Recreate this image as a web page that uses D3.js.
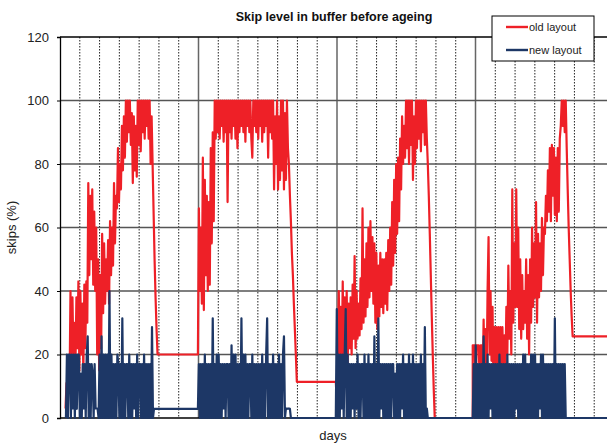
<!DOCTYPE html>
<html>
<head>
<meta charset="utf-8">
<script src="https://cdn.jsdelivr.net/npm/d3@7"></script>
<style>
  body { margin: 0; background: #fff; }
  svg { display: block; font-family: "Liberation Sans", Arial, sans-serif; }
</style>
</head>
<body>
<script>
// values, one value every 0.05 day inside each burst
const dayStep = 0.05;
const seriesNames = ["old layout", "new layout"];
const yTicks = [0, 20, 40, 60, 80, 100, 120];

const oldStarts = [0.28, 6.97, 13.94, 20.86];
const oldHold = [20, 11.4, 0, 25.7];
const oldBurst1 = [3, 11, 5, 11, 8, 40, 12, 38, 18, 30, 16, 38, 22, 43, 15, 40, 20, 36, 14, 42,
  22, 43, 30, 74, 45, 70, 50, 72, 42, 65, 40, 60, 20, 50, 15, 45, 22, 58, 33, 55,
  36, 50, 40, 56, 36, 62, 45, 60, 48, 74, 55, 70, 66, 85, 68, 80, 72, 92, 78, 95,
  82, 100, 87, 100, 90, 100, 86, 96, 74, 95, 78, 92, 76, 100, 86, 100, 84, 100, 90, 100,
  88, 100, 92, 100, 88, 100, 80, 95, 80, 65, 50, 38, 28, 20];
const oldBurst2 = [20, 66, 40, 60, 36, 82, 34, 75, 45, 70, 40, 68, 42, 85, 55, 90, 62, 100, 88, 100,
  90, 100, 88, 100, 92, 100, 87, 100, 90, 100, 68, 100, 90, 100, 88, 100, 92, 100, 88, 100,
  85, 100, 90, 100, 92, 100, 90, 100, 87, 100, 92, 100, 90, 100, 88, 82, 100, 92, 100, 90,
  100, 88, 100, 92, 100, 87, 100, 90, 100, 92, 100, 82, 100, 90, 100, 88, 100, 72, 95, 80,
  100, 72, 95, 75, 100, 78, 100, 72, 96, 75, 100, 85, 80, 70, 62, 52, 45, 36, 28, 20,
  11.4];
const oldBurst3 = [11.4, 5, 20, 40, 18, 35, 18, 43, 15, 38, 20, 40, 17, 36, 22, 38, 20, 42, 25, 51,
  22, 40, 25, 36, 26, 44, 28, 66, 30, 50, 32, 55, 35, 60, 38, 62, 40, 57, 36, 55,
  30, 52, 28, 48, 32, 52, 35, 50, 33, 50, 36, 52, 34, 56, 40, 60, 42, 68, 48, 75,
  52, 80, 58, 82, 62, 88, 72, 95, 80, 92, 82, 100, 85, 100, 80, 100, 86, 100, 75, 95,
  80, 100, 85, 100, 88, 100, 84, 100, 90, 100, 86, 100, 88, 80, 70, 58, 45, 32, 20, 9,
  0];
const oldBurst4 = [22.9, 22.9, 22.9, 8, 22.9, 22.9, 22.9, 12, 22.9, 22.9, 10, 31, 14, 28, 12, 40, 57, 20, 40, 18,
  35, 8, 28.6, 16, 28.6, 12, 28.6, 18, 28.6, 5, 28.6, 15, 26, 14, 35, 20, 48, 25, 40, 20,
  72, 30, 55, 35, 72, 35, 60, 28, 50, 25, 45, 28, 40, 30, 50, 25, 45, 20, 50, 30,
  60, 35, 55, 38, 68, 30, 58, 38, 55, 40, 63, 45, 60, 58, 70, 62, 78, 65, 85, 62,
  86, 70, 85, 64, 82, 62, 85, 65, 88, 92, 100, 92, 100, 90, 100, 85, 72, 60, 50, 40,
  32, 25.7];

const newStarts = [0.30, 6.97, 13.94, 20.86];
const newHold = [2.9, 0, 0, 0];
const newBurst1 = [0, 20, 0, 20, 20, 0, 20, 3, 20, 0, 20, 2.9, 20, 20, 0, 14, 0, 17, 3, 17,
  0, 20, 25.7, 0, 17, 0, 17, 14, 0, 17, 3, 3, 2.9, 0, 20, 0, 25.7, 0, 20, 0,
  20, 0, 20, 0, 40, 0, 20, 0, 17, 0, 17, 0, 20, 17, 0, 17, 0, 31.4, 0, 17,
  0, 17, 17, 0, 20, 0, 17, 0, 17, 3, 17, 0, 20, 0, 17, 17, 0, 17, 0, 20,
  0, 17, 0, 17, 0, 17, 0, 28.6, 0, 2.9];
const newBurst2 = [2.9, 17, 0, 17, 0, 17, 0, 20, 0, 17, 0, 17, 0, 17, 0, 31.4, 0, 17, 0, 20,
  0, 20, 0, 17, 0, 17, 3, 17, 0, 17, 17, 0, 17, 0, 22.9, 0, 20, 0, 20, 0,
  17, 0, 17, 0, 31.4, 0, 20, 0, 20, 0, 17, 0, 17, 17, 0, 20, 0, 17, 0, 17,
  0, 17, 0, 17, 0, 20, 0, 17, 0, 20, 31.4, 0, 17, 0, 17, 0, 20, 0, 17, 0,
  17, 0, 20, 0, 17, 0, 20, 25.7, 0, 3, 3, 2.9, 3, 2.9, 0];
const newBurst3 = [0, 34.3, 0, 20, 0, 20, 3, 20, 0, 20, 34.3, 0, 20, 0, 17, 0, 17, 3, 17, 0,
  17, 3, 20, 0, 17, 0, 17, 17, 0, 20, 0, 17, 0, 20, 0, 17, 0, 17, 0, 25.7,
  0, 17, 0, 31.4, 0, 17, 3, 17, 0, 17, 0, 17, 0, 17, 0, 17, 0, 17, 17, 0,
  14, 0, 17, 0, 17, 0, 17, 3, 20, 0, 17, 0, 17, 0, 20, 0, 17, 0, 20, 0,
  17, 0, 17, 0, 17, 0, 20, 0, 17, 0, 28.6, 0, 3, 0];
const newBurst4 = [0, 17, 0, 22.9, 0, 17, 0, 17, 0, 17, 0, 25.7, 0, 17, 0, 20, 0, 17, 3, 17,
  0, 17, 0, 17, 0, 17, 0, 20, 0, 17, 0, 17, 0, 17, 0, 20, 0, 17, 0, 17,
  0, 17, 0, 17, 3, 17, 0, 17, 0, 17, 0, 20, 0, 20, 0, 17, 0, 17, 0, 20,
  0, 20, 0, 20, 0, 17, 0, 17, 3, 20, 0, 20, 0, 17, 0, 17, 0, 17, 0, 17,
  0, 17, 0, 31.4, 0, 17, 0, 17, 0, 17, 0, 17, 0, 17, 0];

const dayMax = 28;

function buildSeries(starts, bursts, holds) {
    let pts = [];
    bursts.forEach((b, k) => {
        b.forEach((v, i) => pts.push([starts[k] + i * dayStep, v]));
        let next = k + 1 < starts.length ? starts[k + 1] : dayMax;
        pts.push([next, holds[k]]);
    });
    return pts;
}

const oldSeries = buildSeries(oldStarts, [oldBurst1, oldBurst2, oldBurst3, oldBurst4], oldHold);
const newSeries = buildSeries(newStarts, [newBurst1, newBurst2, newBurst3, newBurst4], newHold);

const W = 607, H = 443;
const m = { left: 60, top: 37, right: 614, bottom: 418 };

const svg = d3.select("body").append("svg").attr("width", W).attr("height", H);

const x = d3.scaleLinear().domain([0, dayMax]).range([m.left, m.right]);
const y = d3.scaleLinear().domain([0, 120]).range([m.bottom, m.top]);

// minor day gridlines (dotted)
const grid = svg.append("g");
grid.selectAll(".minor")
    .data(d3.range(1, dayMax).filter(d => d % 7 !== 0))
    .join("line")
    .attr("x1", d => x(d)).attr("x2", d => x(d))
    .attr("y1", m.top).attr("y2", m.bottom)
    .attr("stroke", "#222").attr("stroke-width", 1)
    .attr("stroke-dasharray", "1.5,1.5");

// weekly gridlines
grid.selectAll(".major")
    .data([7, 14, 21])
    .join("line")
    .attr("x1", d => x(d)).attr("x2", d => x(d))
    .attr("y1", m.top).attr("y2", m.bottom)
    .attr("stroke", "#666").attr("stroke-width", 1.5);

// horizontal gridlines
grid.selectAll(".hgrid")
    .data(yTicks.slice(1))
    .join("line")
    .attr("x1", m.left).attr("x2", W)
    .attr("y1", d => y(d)).attr("y2", d => y(d))
    .attr("stroke", d => d === 120 ? "#000" : "#555").attr("stroke-width", 1.3);

// y axis
const yAxis = svg.append("g")
    .attr("transform", `translate(${m.left},0)`)
    .call(d3.axisLeft(y).tickValues(yTicks).tickSize(3).tickPadding(8));
yAxis.select(".domain").attr("stroke", "#000").attr("stroke-width", 1.3);
yAxis.selectAll("text").attr("font-size", 13).attr("fill", "#222")
    .attr("font-family", "Liberation Sans, Arial, sans-serif");
yAxis.selectAll(".tick line").attr("stroke", "#000");

// x axis baseline
svg.append("line")
    .attr("x1", m.left).attr("x2", W)
    .attr("y1", y(0)).attr("y2", y(0))
    .attr("stroke", "#000").attr("stroke-width", 1.3);

const line = d3.line().x(d => x(d[0])).y(d => y(d[1]));

svg.append("path")
    .datum(oldSeries)
    .attr("d", line)
    .attr("fill", "none")
    .attr("stroke", "#ee2027")
    .attr("stroke-width", 2.2)
    .attr("stroke-linejoin", "round");

svg.append("path")
    .datum(newSeries)
    .attr("d", line)
    .attr("fill", "none")
    .attr("stroke", "#1d3766")
    .attr("stroke-width", 2.2)
    .attr("stroke-linejoin", "round");

// title and axis labels
svg.append("text")
    .attr("x", 334).attr("y", 21)
    .attr("text-anchor", "middle")
    .attr("font-size", 12.5).attr("font-weight", "bold").attr("fill", "#111")
    .text("Skip level in buffer before ageing");

svg.append("text")
    .attr("transform", `translate(16,${(m.top + m.bottom) / 2}) rotate(-90)`)
    .attr("text-anchor", "middle")
    .attr("font-size", 13).attr("fill", "#222")
    .text("skips (%)");

svg.append("text")
    .attr("x", 333).attr("y", 440)
    .attr("text-anchor", "middle")
    .attr("font-size", 13).attr("fill", "#222")
    .text("days");

// legend
const legend = svg.append("g").attr("transform", "translate(492,16)");
legend.append("rect")
    .attr("width", 102).attr("height", 45)
    .attr("fill", "#fff").attr("stroke", "#000").attr("stroke-width", 1);
const colors = ["#ee2027", "#1d3766"];
seriesNames.forEach((name, i) => {
    let gy = 11 + i * 23;
    legend.append("line")
        .attr("x1", 14).attr("x2", 36).attr("y1", gy).attr("y2", gy)
        .attr("stroke", colors[i]).attr("stroke-width", 2.4);
    legend.append("text")
        .attr("x", 37).attr("y", gy + 4)
        .attr("font-size", 11).attr("fill", "#222")
        .text(name);
});
</script>
</body>
</html>
